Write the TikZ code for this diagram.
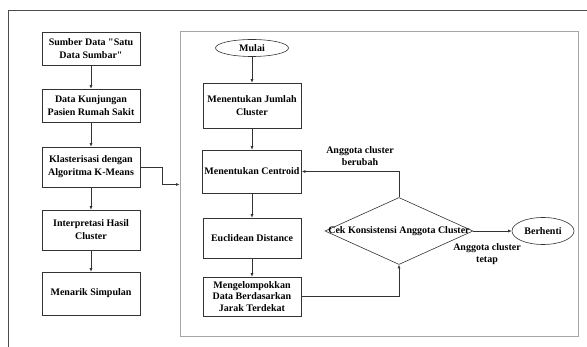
\documentclass[tikz,border=0pt]{standalone}
\usepackage{fontspec}
\setmainfont{Liberation Serif}[Ligatures=TeXOff]
\usetikzlibrary{arrows.meta, positioning, shapes.geometric}

\begin{document}
\begin{tikzpicture}[
    x=1pt, y=-1pt,
    font=\bfseries\fontsize{10}{13}\selectfont,
    process/.style={
      draw=black!80,
      line width=0.6pt,
      minimum width=98pt,
      align=center,
      inner sep=2pt
    },
    terminal/.style={
      draw=black!80,
      line width=0.6pt,
      ellipse,
      inner sep=0pt
    },
    decision/.style={
      diamond,
      draw=black!80,
      line width=0.6pt,
      minimum width=148pt,
      minimum height=67pt,
      inner sep=0pt
    },
    arrow/.style={
      -{Latex[length=3.5pt,width=3pt]},
      black!80,
      line width=0.6pt
    },
    note/.style={
      align=center,
      font=\bfseries\fontsize{10}{11.5}\selectfont
    }
]
\useasboundingbox (0,0) rectangle (587,347);

% Frame
\draw[black!70, line width=0.8pt] (8,347) -- (8,10) -- (587,10);

% Research steps
\node (sumber) [process, minimum height=33pt] at (91,48.5) {Sumber Data "Satu\\ Data Sumbar"};
\node (kunjungan) [process, minimum height=33pt] at (91,105.5) {Data Kunjungan\\ Pasien Rumah Sakit};
\node (klaster) [process, minimum height=40pt] at (91,167) {Klasterisasi dengan\\ Algoritma K-Means};
\node (interpretasi) [process, minimum height=40pt] at (91,230) {Interpretasi Hasil\\ Cluster};
\node (simpulan) [process, minimum height=43pt] at (91,293.5) {Menarik Simpulan};

\draw [arrow] (sumber) -- (kunjungan);
\draw [arrow] (kunjungan) -- (klaster);
\draw [arrow] (klaster) -- (interpretasi);
\draw [arrow] (interpretasi) -- (simpulan);

% K-Means panel
\node (panel) [draw=gray!70, line width=1pt, minimum width=398pt, minimum height=305pt, inner sep=0pt] at (379,184.5) {};
\draw [arrow] (klaster.east) -- ++(22,0) |- (panel.west);

% Start
\node (mulai) [terminal, minimum width=73pt, minimum height=17pt] at (252,48) {Mulai};

% Steps
\node (jumlah) [process, minimum height=45pt] at (252,105.5) {Menentukan Jumlah\\ Cluster};
\draw [arrow] (mulai) -- (jumlah);

\node (centroid) [process, minimum height=43pt] at (252,171.5) {Menentukan Centroid};
\draw [arrow] (jumlah) -- (centroid);

\node (euclid) [process, minimum height=40pt] at (252,238) {Euclidean Distance};
\draw [arrow] (centroid) -- (euclid);

\node (kelompok) [process, minimum height=39pt, font=\bfseries\fontsize{10}{11.5}\selectfont] at (252,296.5) {Mengelompokkan\\ Data Berdasarkan\\ Jarak Terdekat};
\draw [arrow] (euclid) -- (kelompok);

% Check
\node (cek) [decision] at (399,231) {\makebox[0pt]{Cek Konsistensi Anggota Cluster}};
\draw [arrow] (kelompok.east) -| (cek.south);
\draw [arrow] (cek.north) |- (centroid.east);
\node [note] at (360,156) {Anggota cluster\\ berubah};

% Stop
\node (berhenti) [terminal, minimum width=62pt, minimum height=27pt] at (543,231) {Berhenti};
\draw [arrow] (cek.east) -- (berhenti.west);
\node [note] at (487,254) {Anggota cluster\\ tetap};

\end{tikzpicture}
\end{document}
